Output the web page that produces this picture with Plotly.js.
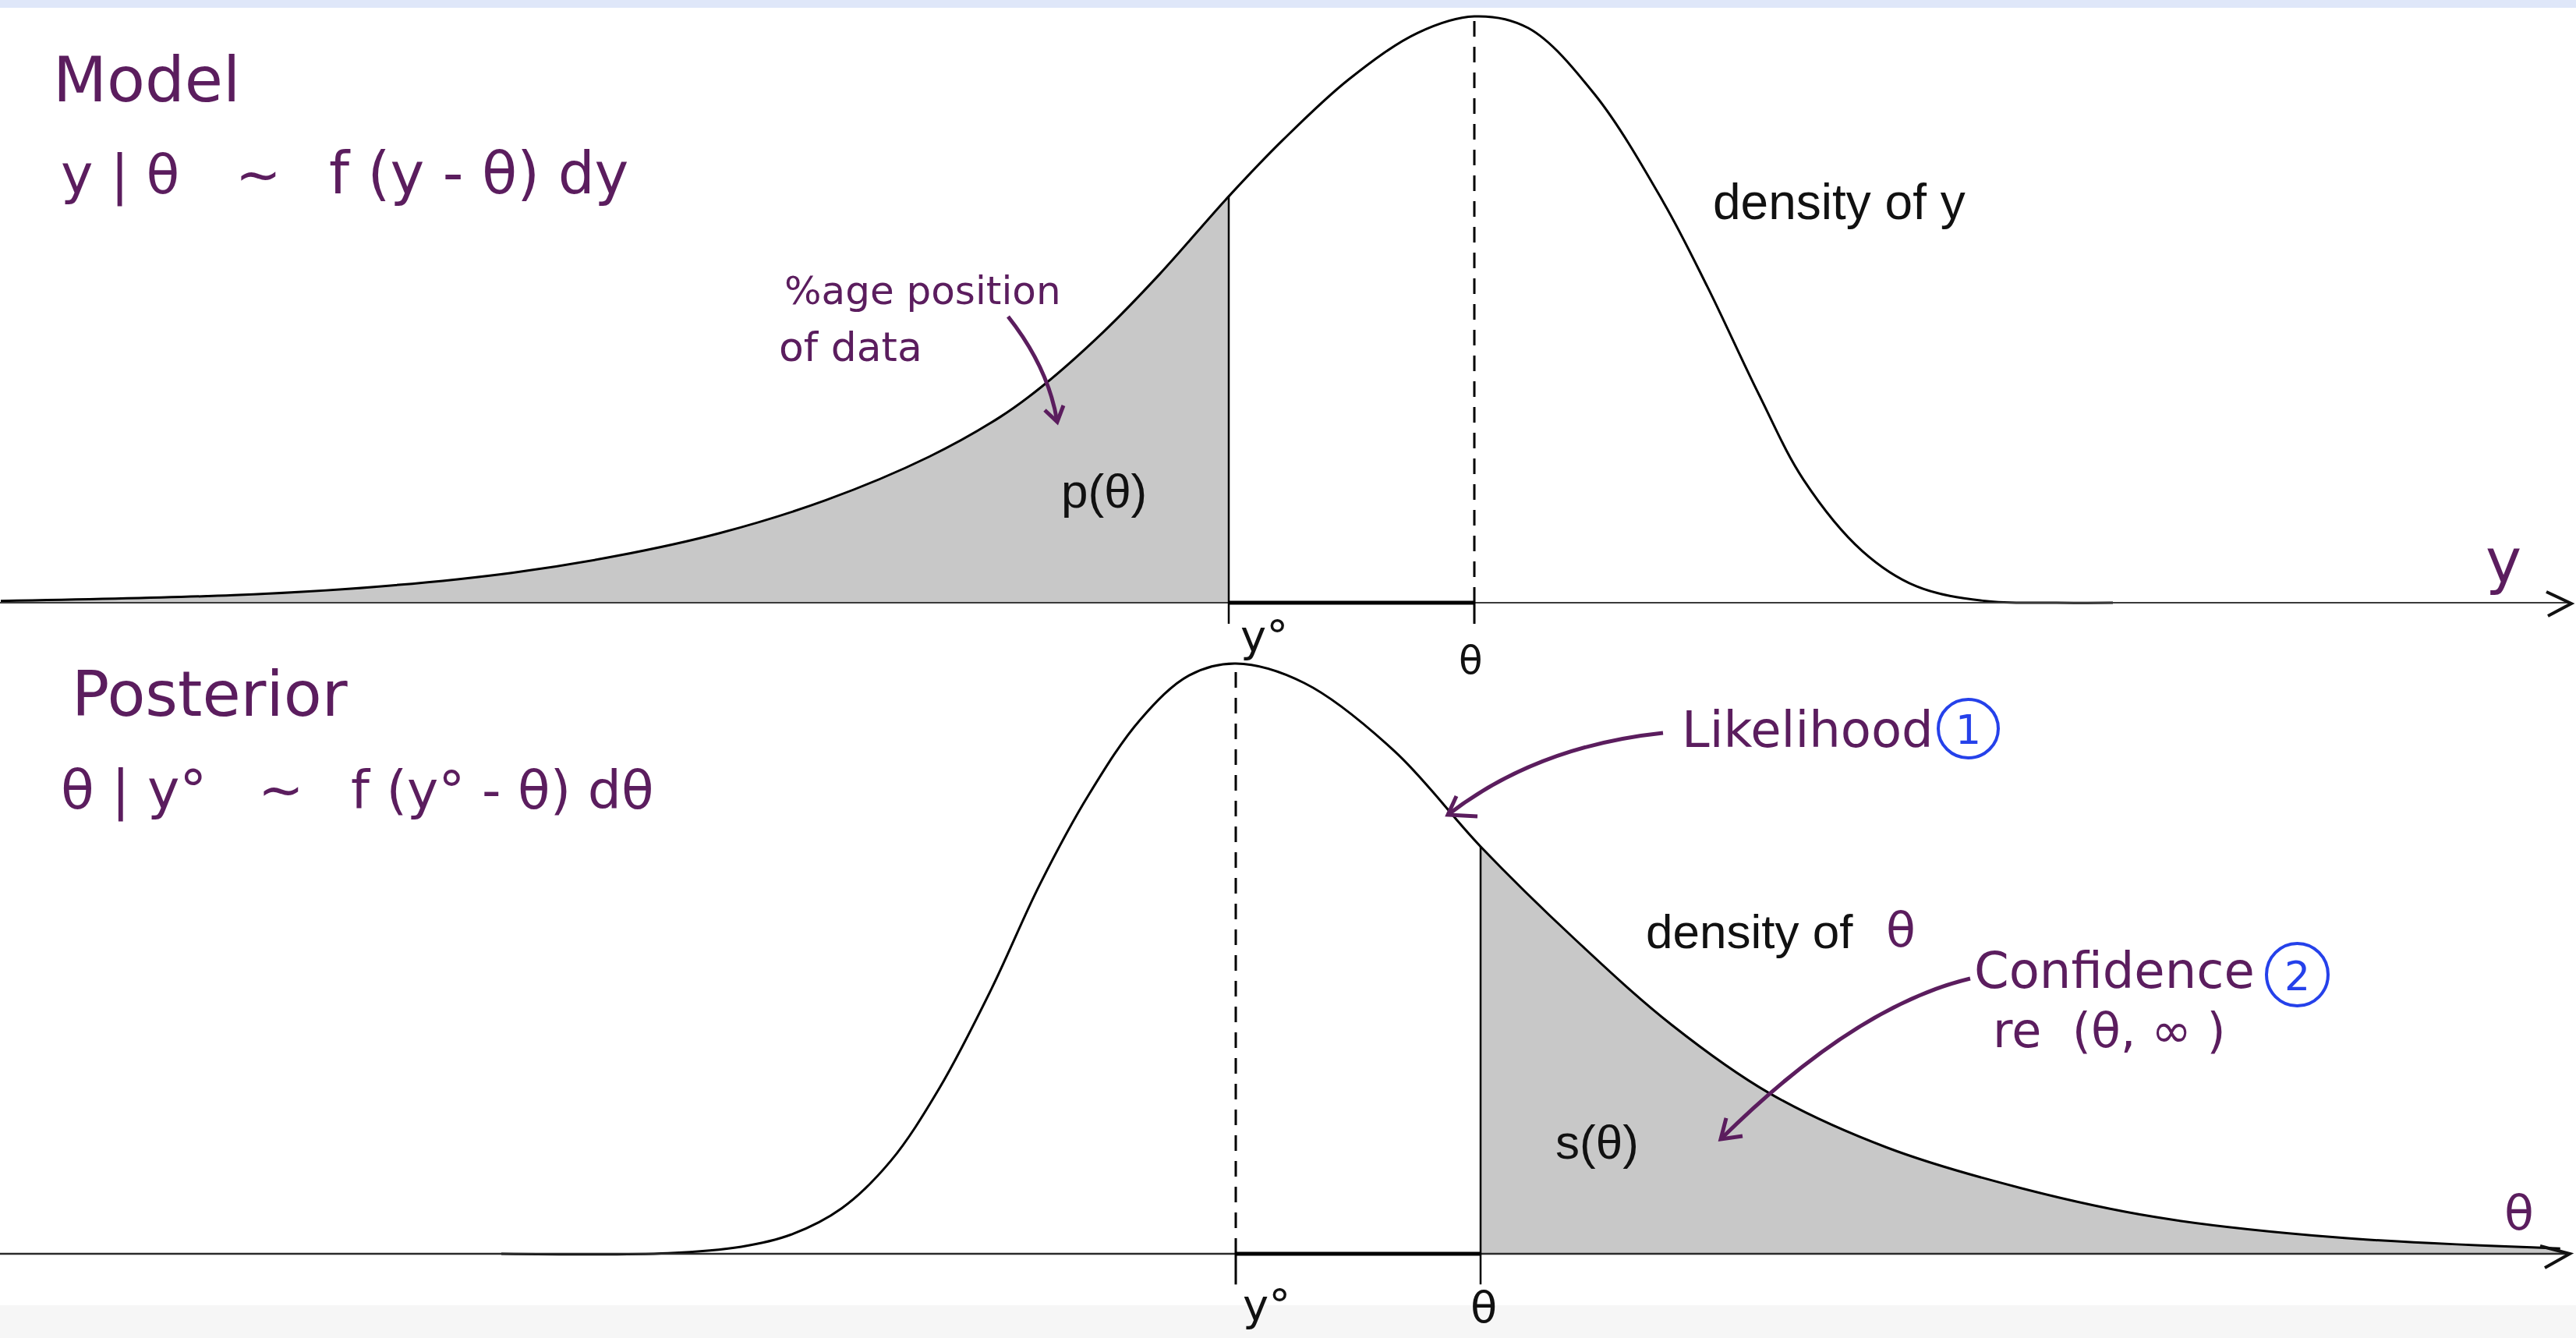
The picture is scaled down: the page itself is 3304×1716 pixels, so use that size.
<!DOCTYPE html>
<html>
<head>
<meta charset="utf-8">
<script src="https://cdn.plot.ly/plotly-3.0.1.min.js"></script>
<style>
  html, body { margin: 0; padding: 0; background: #ffffff; }
  #chart { width: 3304px; height: 1716px; }
</style>
</head>
<body>
<div id="chart"></div>
<script>
// ---- Model panel: density of y (theta at 0, observed y° at -1), peak = 1 ----
const modelY = [-6.00, -5.05, -4.48, -3.92, -3.49, -3.07, -2.64, -2.22, -1.93, -1.76, -1.51, -1.28,
                -1.00, -0.78, -0.51, -0.23, 0.00, 0.22, 0.49, 0.77, 0.95, 1.16, 1.34, 1.58,
                1.80, 2.08, 2.37, 2.60];
const modelDensity = [0.003, 0.013, 0.027, 0.051, 0.080, 0.119, 0.175, 0.249, 0.317, 0.369, 0.462, 0.561,
                      0.693, 0.789, 0.893, 0.972, 1.000, 0.980, 0.867, 0.683, 0.538, 0.354, 0.210, 0.088,
                      0.028, 0.003, 0.000, 0.000];
const modelObs = -1;    // y°
const modelTheta = 0;   // θ

// ---- Posterior panel: density of θ given y° (y° at 0, θ at 1), peak = 1 ----
const postTheta = [-3.00, -2.32, -2.02, -1.82, -1.61, -1.41, -1.21, -1.00, -0.80, -0.60, -0.39, -0.19,
                   0.00, 0.28, 0.65, 1.00, 1.38, 1.78, 2.18, 2.66, 3.21, 3.76, 4.49, 5.41];
const postDensity = [0.000, 0.001, 0.012, 0.032, 0.077, 0.157, 0.281, 0.447, 0.626, 0.778, 0.905, 0.980,
                     1.000, 0.967, 0.851, 0.690, 0.535, 0.388, 0.272, 0.180, 0.111, 0.062, 0.028, 0.009];
const postObs = 0;      // y°
const postCut = 1;      // θ

// ---- page geometry and styles ----
const W = 3304, H = 1716;
const HAND = 'DejaVu Sans, sans-serif';
const PRINT = 'Liberation Sans, Arial, Helvetica, sans-serif';
const PURPLE = '#5b1d5e';
const BLUE = '#2541ea';
const SHADE = '#c8c8c8';
const SMOOTH = 1.0;

function valueAt(xs, ys, x) { return ys[xs.indexOf(x)]; }
function subset(xs, ys, keep) {
  const ox = [], oy = [];
  xs.forEach((x, i) => { if (keep(x)) { ox.push(x); oy.push(ys[i]); } });
  return [ox, oy];
}
// axis range that puts value a at pixel A and value b at pixel B
function span(a, A, b, B, total, flip) {
  const s = (B - A) / (b - a);
  if (!flip) { const r0 = a - A / s; return [r0, r0 + total / s]; }
  const r1 = a + A / (-s); // pixel grows downward
  return [r1 - total / (-s), r1];
}

const [mShadeX, mShadeY] = subset(modelY, modelDensity, x => x <= modelObs);
const [pShadeX, pShadeY] = subset(postTheta, postDensity, x => x >= postCut);

const curveLine = { color: '#000000', width: 3, shape: 'spline', smoothing: SMOOTH };
const fillEdge = { width: 0, shape: 'spline', smoothing: SMOOTH };

const traces = [
  { x: mShadeX, y: mShadeY, xaxis: 'x', yaxis: 'y', mode: 'lines', fill: 'tozeroy',
    fillcolor: SHADE, line: fillEdge, hoverinfo: 'skip' },
  { x: modelY, y: modelDensity, xaxis: 'x', yaxis: 'y', mode: 'lines', line: curveLine, hoverinfo: 'skip' },
  { x: pShadeX, y: pShadeY, xaxis: 'x2', yaxis: 'y2', mode: 'lines', fill: 'tozeroy',
    fillcolor: SHADE, line: fillEdge, hoverinfo: 'skip' },
  { x: postTheta, y: postDensity, xaxis: 'x2', yaxis: 'y2', mode: 'lines', line: curveLine, hoverinfo: 'skip' }
];

// paper helpers for the hand-drawn decorations
const px = X => X / W;
const py = Y => 1 - Y / H;
const pp = (X, Y) => px(X).toFixed(5) + ',' + py(Y).toFixed(5);

function label(text, X, baseY, size, color, family, anchor) {
  return { xref: 'paper', yref: 'paper', x: px(X), y: py(baseY - 0.346 * size),
           xanchor: anchor || 'left', yanchor: 'middle', text: text, showarrow: false,
           borderpad: 0, font: { family: family, size: size, color: color } };
}
function tick(text, xref, xval, xshift, anchor, baseY, size) {
  return { xref: xref, yref: 'paper', x: xval, xshift: xshift, y: py(baseY - 0.346 * size),
           xanchor: anchor, yanchor: 'middle', text: text, showarrow: false, borderpad: 0,
           font: { family: HAND, size: size, color: '#111111' } };
}
function stroke(d, color, width) {
  return { type: 'path', xref: 'paper', yref: 'paper', path: d,
           fillcolor: 'rgba(0,0,0,0)', line: { color: color, width: width } };
}
function curvedArrow(p0, c, p1, armA, armB, color) {
  return [
    stroke('M' + pp(p0[0], p0[1]) + ' Q' + pp(c[0], c[1]) + ' ' + pp(p1[0], p1[1]), color, 5),
    stroke('M' + pp(armA[0], armA[1]) + ' L' + pp(p1[0], p1[1]) + ' L' + pp(armB[0], armB[1]), color, 5)
  ];
}
function hline(xref, yref, x0, x1, y, color, width) {
  return { type: 'line', xref: xref, yref: yref, x0: x0, x1: x1, y0: y, y1: y,
           line: { color: color, width: width } };
}
function vline(xref, yref, x, y0, y1, width, dash) {
  return { type: 'line', xref: xref, yref: yref, x0: x, x1: x, y0: y0, y1: y1,
           line: { color: '#000000', width: width, dash: dash || 'solid' } };
}

const mTop = valueAt(modelY, modelDensity, modelObs);
const mPeak = valueAt(modelY, modelDensity, modelTheta);
const pPeak = valueAt(postTheta, postDensity, postObs);
const pTop = valueAt(postTheta, postDensity, postCut);
const DASH = '20px,13px';

const shapes = [
  // page bands
  { type: 'rect', xref: 'paper', yref: 'paper', x0: 0, x1: 1, y0: py(10), y1: 1,
    fillcolor: '#dfe7f9', line: { width: 0 }, layer: 'below' },
  { type: 'rect', xref: 'paper', yref: 'paper', x0: 0, x1: 1, y0: 0, y1: py(1674),
    fillcolor: '#f6f6f6', line: { width: 0 }, layer: 'below' },

  // model panel axis, markers
  hline('paper', 'y', 0, px(3294), 0, '#3a3a3a', 2),
  hline('x', 'y', modelObs, modelTheta, 0, '#000000', 5),
  vline('x', 'y', modelObs, -0.036, mTop, 2.5),
  vline('x', 'y', modelTheta, 0, mPeak, 3, DASH),
  vline('x', 'y', modelTheta, -0.036, 0, 3),
  stroke('M' + pp(3266, 759) + ' L' + pp(3298, 774) + ' L' + pp(3268, 790), '#111111', 4),

  // posterior panel axis, markers
  hline('paper', 'y2', 0, px(3294), 0, '#2a2a2a', 2.5),
  hline('x2', 'y2', postObs, postCut, 0, '#000000', 5),
  vline('x2', 'y2', postObs, 0, pPeak, 3, DASH),
  vline('x2', 'y2', postObs, -0.052, 0, 3),
  vline('x2', 'y2', postCut, -0.052, pTop, 2.5),
  stroke('M' + pp(3258, 1598) + ' L' + pp(3296, 1608) + ' L' + pp(3264, 1626), '#111111', 4),

  // circled numbers
  { type: 'circle', xref: 'paper', yref: 'paper', x0: px(2486), x1: px(2563), y0: py(972), y1: py(897),
    line: { color: BLUE, width: 4 } },
  { type: 'circle', xref: 'paper', yref: 'paper', x0: px(2907), x1: px(2986), y0: py(1290), y1: py(1210),
    line: { color: BLUE, width: 4 } }
].concat(
  curvedArrow([1293, 406], [1345, 472], [1356, 541], [1340, 526], [1364, 520], PURPLE),
  curvedArrow([2133, 940], [1971, 957], [1857, 1045], [1868, 1021], [1895, 1047], PURPLE),
  curvedArrow([2527, 1255], [2380, 1290], [2207, 1461], [2214, 1434], [2235, 1457], PURPLE)
);

const NB = '\u00a0';
const annotations = [
  // model panel notes
  label('Model', 67, 130, 80, PURPLE, HAND),
  label('y' + NB + '|' + NB + 'θ', 77, 248, 70, PURPLE, HAND),
  label('~', 331, 248, 70, PURPLE, HAND, 'center'),
  label('f' + NB + '(y' + NB + '-' + NB + 'θ)' + NB + 'dy', 421, 248, 74, PURPLE, HAND),
  label('%age position', 1005, 390, 50, PURPLE, HAND),
  label('of data', 998, 463, 52, PURPLE, HAND),
  label('y', 3211, 747, 78, PURPLE, HAND, 'center'),
  label('p(θ)', 1360, 651, 62, '#111111', PRINT),
  label('density of y', 2196, 281, 64, '#111111', PRINT),
  tick('y°', 'x', modelObs, 14, 'left', 835, 56),
  tick('θ', 'x', modelTheta, -5, 'center', 864, 50),

  // posterior panel notes
  label('Posterior', 91, 918, 80, PURPLE, HAND),
  label('θ' + NB + '|' + NB + 'y°', 77, 1037, 70, PURPLE, HAND),
  label('~', 360, 1037, 70, PURPLE, HAND, 'center'),
  label('f' + NB + '(y°' + NB + '-' + NB + 'θ)' + NB + 'dθ', 449, 1037, 68, PURPLE, HAND),
  label('Likelihood', 2156, 958, 64, PURPLE, HAND),
  label('1', 2524, 954, 52, BLUE, HAND, 'center'),
  label('density of', 2110, 1216, 62, '#111111', PRINT),
  label('θ', 2438, 1214, 62, PURPLE, HAND, 'center'),
  label('Confidence', 2531, 1267, 64, PURPLE, HAND),
  label('2', 2946, 1270, 52, BLUE, HAND, 'center'),
  label('re' + NB + NB + '(θ,' + NB + '∞' + NB + ')', 2555, 1343, 62, PURPLE, HAND),
  label('s(θ)', 1994, 1486, 62, '#111111', PRINT),
  label('θ', 3231, 1577, 62, PURPLE, HAND, 'center'),
  tick('y°', 'x2', postObs, 8, 'left', 1693, 56),
  tick('θ', 'x2', postCut, 4, 'center', 1696, 56)
];

const hidden = { visible: false, fixedrange: true, showgrid: false, zeroline: false };

const layout = {
  width: W, height: H,
  margin: { l: 0, r: 0, t: 0, b: 0, pad: 0 },
  paper_bgcolor: '#ffffff', plot_bgcolor: 'rgba(0,0,0,0)',
  showlegend: false, hovermode: false, dragmode: false,
  xaxis:  Object.assign({ domain: [0, 1], anchor: 'y',  range: span(modelTheta, 1891, modelObs, 1576, W) }, hidden),
  yaxis:  Object.assign({ domain: [0, 1], anchor: 'x',  range: span(0, 773, 1, 21, H, true) }, hidden),
  xaxis2: Object.assign({ domain: [0, 1], anchor: 'y2', range: span(postObs, 1585, postCut, 1899, W) }, hidden),
  yaxis2: Object.assign({ domain: [0, 1], anchor: 'x2', range: span(0, 1608, 1, 851, H, true) }, hidden),
  shapes: shapes,
  annotations: annotations
};

Plotly.newPlot('chart', traces, layout, { displayModeBar: false, staticPlot: true });
</script>
</body>
</html>
